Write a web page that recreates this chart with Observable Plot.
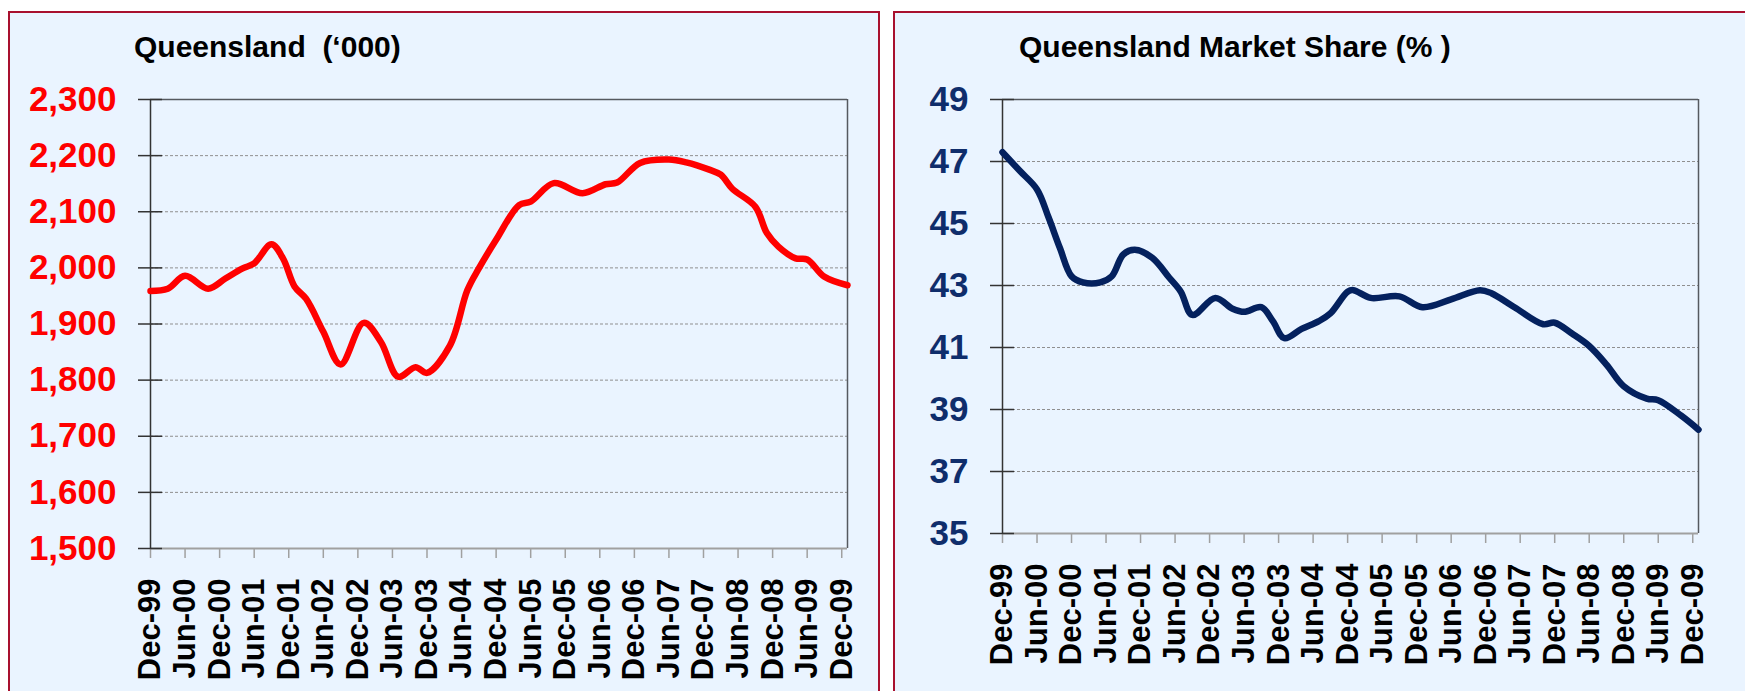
<!DOCTYPE html>
<html><head><meta charset="utf-8">
<script src="https://cdn.jsdelivr.net/npm/d3@7"></script>
<script src="https://cdn.jsdelivr.net/npm/@observablehq/plot@0.6"></script>
<style>
html,body{margin:0;padding:0;width:1745px;height:691px;overflow:hidden;background:#fff;}
.panel{position:absolute;top:11px;height:700px;width:872px;box-sizing:border-box;border:2px solid #A8102E;background:#EAF4FF;}
.title{position:absolute;font-family:"Liberation Sans",Arial,sans-serif;font-weight:bold;font-size:30px;line-height:1;color:#000;white-space:pre;}
.chart{position:absolute;top:0;}
</style></head><body>
<div class="panel" style="left:8px"></div>
<div class="panel" style="left:893px"></div>
<div class="title" style="left:134px;top:32px">Queensland  (‘000)</div>
<div class="title" style="left:1019px;top:32px">Queensland Market Share (% )</div>
<div id="c1" class="chart" style="left:8px"></div>
<div id="c2" class="chart" style="left:893px"></div>
<script>
const FONT = '"Liberation Sans", Arial, sans-serif';
const tickLabels = ["Dec-99","Jun-00","Dec-00","Jun-01","Dec-01","Jun-02","Dec-02","Jun-03","Dec-03","Jun-04","Dec-04","Jun-05","Dec-05","Jun-06","Dec-06","Jun-07","Dec-07","Jun-08","Dec-08","Jun-09","Dec-09"];

// month index counted from Dec-99
const qldMonths = [0,3,6,10,13,16,18,21,23,25,27,30,33,37,40,43,46,48,52,55,57,60,64,66,70,75,79,81,85,90,93,97,99,101,105,107,109,112,114,117,121];
const qldValues = [1959,1963,1986,1963,1981,1999,2008,2042,2017,1967,1945,1886,1828,1902,1868,1806,1823,1813,1862,1960,1999,2050,2112,2118,2151,2133,2149,2152,2187,2193,2188,2175,2166,2141,2109,2062,2038,2017,2015,1984,1969];

const shareMonths = [0,3,6,8,10,12,14,17,19,21,23,26,29,31,33,37,40,42,45,47,49,52,55,57,60,61,64,69,73,78,83,85,89,94,96,99,102,105,108,112,114,118,121];
const shareValues = [47.3,46.7,46.1,45.2,44.2,43.3,43.1,43.1,43.3,44.0,44.15,43.9,43.25,42.8,42.05,42.6,42.25,42.15,42.3,41.85,41.3,41.6,41.85,42.1,42.8,42.85,42.6,42.65,42.3,42.55,42.85,42.75,42.3,41.75,41.8,41.45,41.05,40.45,39.75,39.35,39.3,38.8,38.35];

const qldTicks = [1500,1600,1700,1800,1900,2000,2100,2200,2300];
const shareTicks = [35,37,39,41,43,45,47,49];

function chart({months, values, yTicks, yFormat, lineColor, labelColor, width, marginLeft, marginRight, marginBottom}) {
  const data = months.map((m, i) => ({m, v: values[i]}));
  const xTicks = tickLabels.map((_, i) => i * 6);
  const yDomain = [yTicks[0], yTicks[yTicks.length - 1]];
  const inner = yTicks.slice(1, -1);
  return Plot.plot({
    width, height: 691, marginTop: 99, marginBottom, marginLeft, marginRight,
    style: {background: "transparent", overflow: "visible", fontFamily: FONT},
    x: {domain: [0, 121], axis: null},
    y: {domain: yDomain, axis: null},
    marks: [
      Plot.gridY(inner, {stroke: "#8f8f8f", strokeOpacity: 1, strokeDasharray: "3,2", strokeWidth: 1}),
      Plot.ruleY([yDomain[1]], {stroke: "#55595f", strokeWidth: 1.5}),
      Plot.ruleX([121], {stroke: "#55595f", strokeWidth: 1.5}),
      Plot.ruleY([yDomain[0]], {stroke: "#a0a0a0", strokeWidth: 2}),
      Plot.ruleX([0], {stroke: "#333", strokeWidth: 1.5}),
      Plot.axisX(xTicks, {anchor: "bottom", label: null, tickSize: 10, tickPadding: 20, tickRotate: -90,
        tickFormat: d => tickLabels[Math.round(d / 6)], stroke: "#a0a0a0", strokeWidth: 1.5,
        fill: "#000", fontSize: 31, fontWeight: "bold"}),
      Plot.axisY(yTicks, {anchor: "left", label: null, tickSize: 12, tickPadding: 22, tickFormat: yFormat,
        stroke: "#333", strokeWidth: 1.5, fill: labelColor, fontSize: 35, fontWeight: "bold"}),
      Plot.axisY(yTicks, {anchor: "left", label: null, tickSize: 12, dx: 12, tickFormat: () => "",
        stroke: "#333", strokeWidth: 1.5}),
      Plot.line(data, {x: "m", y: "v", stroke: lineColor, strokeWidth: 6.5, curve: "catmull-rom"})
    ]
  });
}

document.getElementById("c1").append(chart({
  months: qldMonths, values: qldValues, yTicks: qldTicks, yFormat: d3.format(","),
  lineColor: "#FF0000", labelColor: "#FF0000",
  width: 872, marginLeft: 142, marginRight: 33, marginBottom: 143
}));
document.getElementById("c2").append(chart({
  months: shareMonths, values: shareValues, yTicks: shareTicks, yFormat: d => String(d),
  lineColor: "#04215E", labelColor: "#0F2D6B",
  width: 852, marginLeft: 109, marginRight: 47, marginBottom: 158
}));
</script>
</body></html>
